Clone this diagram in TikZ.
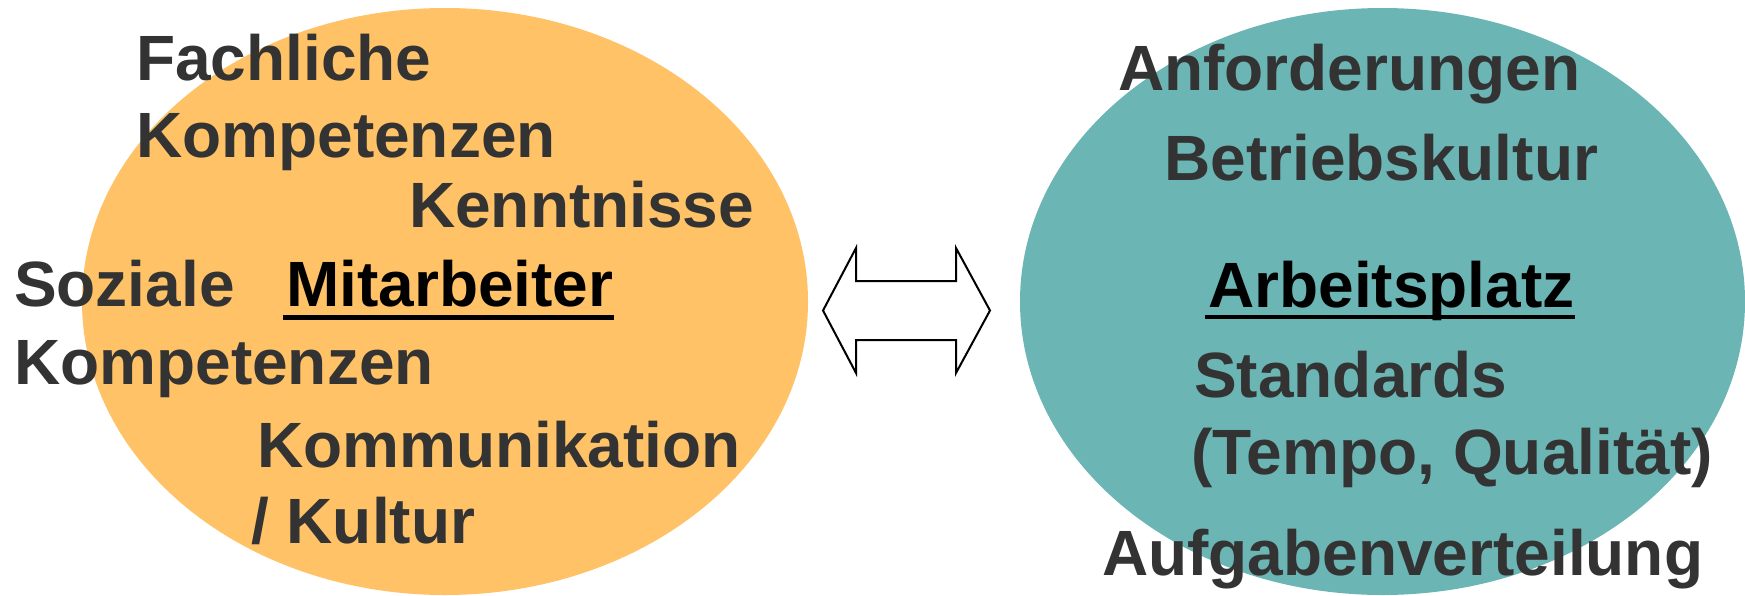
\documentclass[tikz,border=0pt]{standalone}
\usepackage{fontspec}
\setmainfont{Liberation Sans}
\usepackage{tikz}

\definecolor{mitorange}{RGB}{255,194,102}
\definecolor{platzteal}{RGB}{107,181,181}
\definecolor{txtgray}{RGB}{51,51,51}

\tikzset{
  lbl/.style={anchor=base west, inner sep=0pt, text=txtgray,
    font=\fontsize{64}{70}\selectfont\bfseries},
  head/.style={lbl, text=black},
  uline/.style={line width=4.5pt, black}
}

\begin{document}
\begin{tikzpicture}[x=1pt,y=-1pt]
\useasboundingbox (0,0) rectangle (1745,595);
% the two ellipses
\fill[mitorange] (445,301.5) ellipse [x radius=363pt, y radius=293.5pt];
\fill[platzteal] (1382.5,301.5) ellipse [x radius=362.5pt, y radius=293.5pt];
% double arrow
\draw[line width=2pt, fill=white, line join=miter]
  (823,310.5) -- (856,248) -- (856,281) -- (956,281) -- (956,248) -- (990,310.5)
  -- (956,373) -- (956,340) -- (856,340) -- (856,373) -- cycle;

% Mitarbeiter side
\node[lbl] (fach) at (136,80.5) {Fachliche};
\node[lbl] (fachkomp) at (136,157.5) {Kompetenzen};
\node[lbl] (kennt) at (409,227) {Kenntnisse};
\node[lbl] (sozial) at (14,306.5) {Soziale};
\node[head] (mitarb) at (286,306.5) {Mitarbeiter};
\node[lbl] (sozkomp) at (14,384) {Kompetenzen};
\node[lbl] (komm) at (257,467) {Kommunikation};
\node[lbl] (kultur) at (251,543) {/ Kultur};
\draw[uline] ([xshift=-3pt,yshift=-11pt]mitarb.base west) -- ([yshift=-11pt]mitarb.base east);

% Arbeitsplatz side
\node[lbl] (anford) at (1118,90) {Anforderungen};
\node[lbl] (betrieb) at (1164,180) {Betriebskultur};
\node[head] (arbpl) at (1208,307) {Arbeitsplatz};
\node[lbl] (stand) at (1194,397) {Standards};
\node[lbl] (tempo) at (1191,474) {(Tempo, Qualit\"at)};
\node[lbl] (aufg) at (1102,575) {Aufgabenverteilung};
\draw[uline] ([xshift=-3pt,yshift=-10pt]arbpl.base west) -- ([yshift=-10pt]arbpl.base east);
\end{tikzpicture}
\end{document}
